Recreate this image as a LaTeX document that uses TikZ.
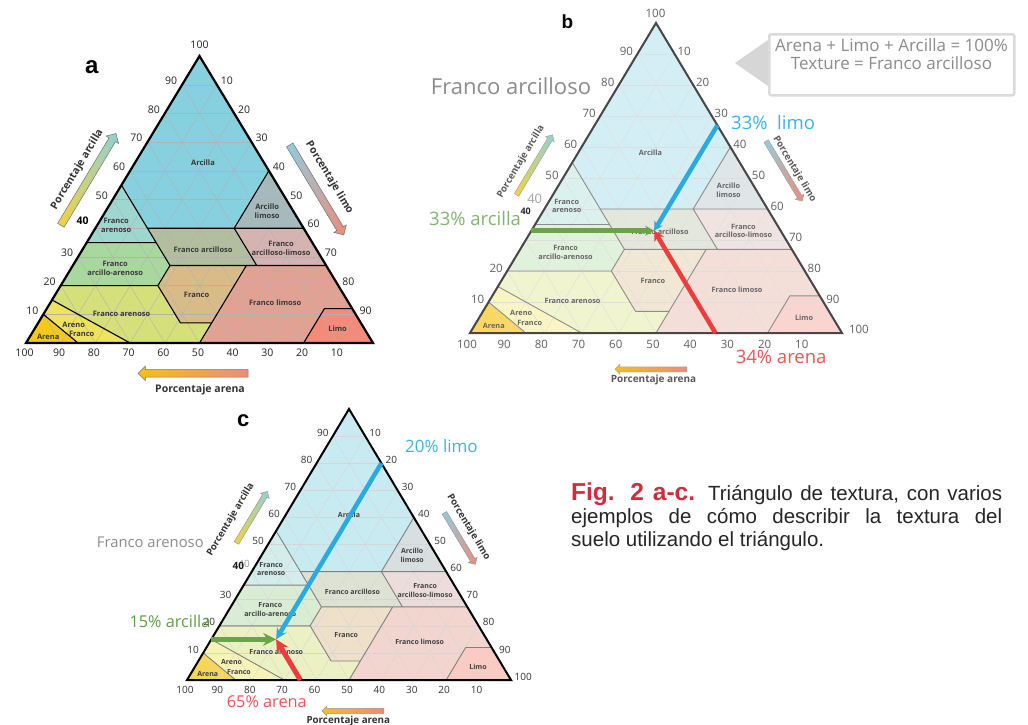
\documentclass[tikz,border=0pt]{standalone}
\usepackage{fontspec}
\setmainfont{Open Sans}
\newfontfamily\capfont{Liberation Sans}
\usetikzlibrary{shapes.arrows,arrows.meta}
\definecolor{cArcilla}{HTML}{86D0E0}
\definecolor{cArcLim}{HTML}{A6B9BD}
\definecolor{cFArenA}{HTML}{9CD8D0}
\definecolor{cFArc}{HTML}{B3BE9E}
\definecolor{cFArcLim}{HTML}{D5B3B0}
\definecolor{cFArcAre}{HTML}{A9D89E}
\definecolor{cFranco}{HTML}{D9BB88}
\definecolor{cFLim}{HTML}{E1A293}
\definecolor{cLimo}{HTML}{F28B7A}
\definecolor{cFArenB}{HTML}{D5E07A}
\definecolor{cArenoF}{HTML}{EEE35C}
\definecolor{cArena}{HTML}{F5C81C}
\definecolor{dblue}{HTML}{29ABE2}
\definecolor{dgreen}{HTML}{6BA34A}
\definecolor{dred}{HTML}{EE3B3B}
\definecolor{tblue}{HTML}{3DB4E8}
\definecolor{tgreenb}{HTML}{82B56E}
\definecolor{tgreenc}{HTML}{5FA046}
\definecolor{tred}{HTML}{F05454}
\definecolor{capred}{HTML}{D42B3A}
\definecolor{arY}{HTML}{F5D23A}
\definecolor{arT}{HTML}{8DD0D8}
\definecolor{arB}{HTML}{8FCDE0}
\definecolor{arS}{HTML}{F08A76}
\definecolor{arO}{HTML}{F7BE1E}
\definecolor{bigg}{HTML}{8C8C8C}

\newcommand{\soiltri}[4]{%
 \fill[cArcilla!#2!white] (0,55)--(0,100)--(40,60)--(40,40)--(15,40)--cycle;
 \fill[cArcLim!#2!white] (40,40)--(40,60)--(60,40)--cycle;
 \fill[cFArenA!#2!white] (0,35)--(0,55)--(15,40)--(20,35)--cycle;
 \fill[cFArc!#2!white] (15,40)--(40,40)--(53,27)--(28,27)--(20,35)--cycle;
 \fill[cFArcLim!#2!white] (40,40)--(60,40)--(73,27)--(53,27)--cycle;
 \fill[cFArcAre!#2!white] (0,20)--(0,35)--(20,35)--(28,27)--(28,20)--cycle;
 \fill[cFranco!#2!white] (28,20)--(28,27)--(50,27)--(50,7)--(41,7)--cycle;
 \fill[cFLim!#2!white] (50,0)--(50,27)--(73,27)--(88,12)--(80,12)--(80,0)--cycle;
 \fill[cLimo!#2!white] (80,0)--(80,12)--(88,12)--(100,0)--cycle;
 \fill[cFArenB!#2!white] (0,15)--(0,20)--(28,20)--(41,7)--(50,7)--(50,0)--(30,0)--cycle;
 \fill[cArenoF!#2!white] (0,10)--(0,15)--(30,0)--(15,0)--cycle;
 \fill[cArena!#4!white] (0,0)--(0,10)--(15,0)--cycle;
 \foreach \v in {10,20,...,90}{%
   \draw[gridln] (0,\v) -- ({100-\v},\v);
   \draw[gridln] (\v,0) -- (\v,{100-\v});
   \draw[gridln] (\v,0) -- (0,\v);
 }
 \draw[bord] (0,55)--(28,27) (0,35)--(20,35) (15,40)--(60,40) (40,40)--(40,60)
   (28,27)--(73,27) (53,27)--(40,40) (28,27)--(28,20) (0,20)--(28,20)
   (28,20)--(41,7)--(50,7) (50,0)--(50,27) (80,0)--(80,12)--(88,12)
   (0,15)--(30,0) (0,10)--(15,0);
 \draw[outl] (0,0)--(100,0)--(0,100)--cycle;
 \foreach \v in {10,20,...,90} \node[numR] (#1R\v) at (\v,{100-\v}) {\v};
 \foreach \s in {100,90,...,10} \node[numB] (#1B\s) at ({100-\s},0) {\s};
 \node[rlab] (#1n1) at (19.5,#3) {Arcilla};
 \node[rlab] (#1n2) at (46.5,46) {Arcillo\\limoso};
 \node[rlab] (#1n3) at (5.5,41) {Franco\\arenoso};
 \node[rlab] (#1n4) at (34.8,32.5) {Franco arcilloso};
 \node[rlab] (#1n5) at (57,33) {Franco\\arcilloso-limoso};
 \node[rlab] (#1n6) at (12.7,26) {Franco\\arcillo-arenoso};
 \node[rlab] (#1n7) at (40.8,16.7) {Franco};
 \node[rlab] (#1n8) at (64.8,14) {Franco limoso};
 \node[rlab] (#1n9) at (22.4,10.3) {Franco arenoso};
 \node[rlab] (#1n10) at (10.5,6.5) {Areno};
 \node[rlab] (#1n11) at (14.5,3.1) {Franco};
 \node[rlab] (#1n12) at (5.3,2.2) {Arena};
 \node[rlab] (#1n13) at (87.3,5) {Limo};
}

\tikzset{
 garr/.style={single arrow, draw=black!55, line width=0.5pt, inner xsep=0pt,
   single arrow head indent=0pt},
 ttl/.style={font=\fontsize{10.5}{12}\selectfont\bfseries, inner sep=0pt},
 big/.style={inner sep=0pt, font=\fontsize{18.5}{20}\selectfont},
 plab/.style={inner sep=0pt, font=\capfont\bfseries}
}

\begin{document}
\begin{tikzpicture}[x=1pt,y=-1pt]
\useasboundingbox (0,0) rectangle (1028,724);
\fill[white] (0,0) rectangle (1028,724);

% ---------------- panel a
\begin{scope}[shift={(26pt,-343pt)}, x={(3.47pt,0pt)}, y={(1.735pt,2.87pt)},
  num/.style={font=\fontsize{10.5}{12}\selectfont, text=black!85, inner sep=0pt},
  numL/.style={num,xshift=-11pt,yshift=4pt},
  numR/.style={num,xshift=10pt,yshift=4pt},
  numB/.style={num,xshift=-1.5pt,yshift=-10pt},
  gridln/.style={draw=black!30, line width=0.4pt},
  bord/.style={draw=black, line width=1.1pt, line join=round},
  outl/.style={draw=black, line width=2.2pt},
  rlab/.style={font=\fontsize{7.5}{8.7}\selectfont\bfseries, text=black!78, inner sep=0pt, align=center}]
 \soiltri{a}{100}{63}{100}
 \foreach \v in {10,20,30,50,60,70,80,90} \node[numL] (aL\v) at (0,\v) {\v};
\end{scope}
\node[inner sep=0pt, font=\fontsize{10.5}{12}\selectfont\bfseries] (aL40) at (82.7,220.7) {40};
\node[inner sep=0pt, font=\fontsize{10.5}{12}\selectfont, text=black!85] (aT) at (199.5,45) {100};
\node[plab, font=\capfont\bfseries\fontsize{24}{26}\selectfont] (la) at (91.7,67) {a};
\node[garr, minimum height=107pt, inner ysep=3.5pt, single arrow head extend=3.5pt, rotate=59, left color=arY, right color=arT] (aG1) at (87.5,181) {};
\node[ttl, rotate=59, text=black!80] (aT1) at (77.3,169.5) {Porcentaje arcilla};
\node[garr, minimum height=105pt, inner ysep=3.5pt, single arrow head extend=3.5pt, rotate=-59, left color=arB, right color=arS] (aG2) at (315.8,188.3) {};
\node[ttl, rotate=-59, text=black!80] (aT2) at (329.3,177.8) {Porcentaje limo};
\node[garr, minimum height=110pt, inner ysep=3.5pt, single arrow head extend=3.5pt, rotate=180, left color=arO, right color=arS] (aG3) at (195,373.3) {};
\node[ttl, text=black!80] (aT3) at (200,390) {Porcentaje arena};

% ---------------- panel b
\node[big, font=\fontsize{22}{24}\selectfont, text=bigg] (bBig) at (511,86.7) {Franco arcilloso};
\begin{scope}[shift={(470pt,-333pt)}, x={(3.72pt,0pt)}, y={(1.86pt,3.10pt)},
  num/.style={font=\fontsize{11.5}{13}\selectfont, text=black!62, inner sep=0pt},
  numL/.style={num,xshift=-11pt,yshift=3pt},
  numR/.style={num,xshift=9.5pt,yshift=3pt},
  numB/.style={num,xshift=-3pt,yshift=-11pt},
  gridln/.style={draw=black!13, line width=0.4pt},
  bord/.style={draw=black!45, line width=0.9pt, line join=round},
  outl/.style={draw=black!72, line width=2pt},
  rlab/.style={font=\fontsize{7.3}{8.5}\selectfont\bfseries, text=black!60, inner sep=0pt, align=center}]
 \soiltri{b}{36}{58}{70}
 \foreach \v in {10,20,50,60,70,80,90} \node[numL] (bL\v) at (0,\v) {\v};
 \coordinate (bP) at (33,33);
 \coordinate (bS1) at (33,67);
 \coordinate (bS2) at (0,33);
 \coordinate (bS3) at (66,0);
 \draw[dgreen, line width=4.5pt, -{Stealth[length=9pt,width=10pt]}] (bS2) -- (bP);
 \draw[dblue, line width=4.5pt, -{Stealth[length=9pt,width=10pt]}] (bS1) -- (bP);
 \draw[dred, line width=4.5pt, -{Stealth[length=10pt,width=11pt]}] (bS3) -- (bP);
\end{scope}
\node[inner sep=0pt, font=\fontsize{11.5}{13}\selectfont, text=black!62] (bT) at (655.5,13.3) {100};
\node[inner sep=0pt, font=\fontsize{11.5}{13}\selectfont, text=black!62] (bR100) at (858.9,329.3) {100};
\node[inner sep=0pt, font=\fontsize{13}{14}\selectfont, text=black!35] (bL40g) at (534.7,199.3) {40};
\node[inner sep=0pt, font=\fontsize{9}{10}\selectfont\bfseries, text=black!85] (bL40) at (525.7,211) {40};
\node[plab, font=\capfont\bfseries\fontsize{19}{21}\selectfont] (lb) at (567.3,22) {b};
\fill[black!16] (735,63) -- (768,40) -- (768,86) -- cycle;
\node[draw=black!14, line width=2.5pt, fill=white, rounded corners=2pt, minimum width=245pt, minimum height=61pt, anchor=north west] (box) at (768,33) {};
\node[inner sep=0pt, align=center, font=\fontsize{17}{18.3}\selectfont, text=bigg] (boxt) at (891.5,54) {Arena + Limo + Arcilla = 100\%\\Texture = Franco arcilloso};
\node[big, text=tblue, anchor=west] (bTl) at (731,122.7) {33\%\ \ limo};
\node[big, text=tgreenb, anchor=west] (bTg) at (429,218.3) {33\% arcilla};
\node[big, text=tred, anchor=west] (bTr) at (735.6,357.3) {34\% arena};
\node[garr, minimum height=70pt, inner ysep=2.3pt, single arrow head extend=2.5pt, rotate=59, left color=arY, right color=arT, draw=black!35] (bG1) at (533.9,166) {};
\node[ttl, rotate=59, text=black!65, font=\fontsize{9.5}{11}\selectfont\bfseries] (bT1) at (521,161.7) {Porcentaje arcilla};
\node[garr, minimum height=70pt, inner ysep=2.3pt, single arrow head extend=2.5pt, rotate=-59, left color=arB, right color=arS, draw=black!35] (bG2) at (783.5,170) {};
\node[ttl, rotate=-59, text=black!65, font=\fontsize{9.5}{11}\selectfont\bfseries] (bT2) at (794.5,169) {Porcentaje limo};
\node[garr, minimum height=72pt, inner ysep=2.3pt, single arrow head extend=2.5pt, rotate=180, left color=arO, right color=arS, draw=black!35] (bG3) at (652.2,369.3) {};
\node[ttl, text=black!65, font=\fontsize{10}{11}\selectfont\bfseries] (bT3) at (653.5,379.5) {Porcentaje arena};

% ---------------- panel c
\begin{scope}[shift={(187pt,-680pt)}, x={(3.24pt,0pt)}, y={(1.62pt,2.71pt)},
  num/.style={font=\fontsize{10}{12}\selectfont, text=black!80, inner sep=0pt},
  numL/.style={num,xshift=-10pt,yshift=3.4pt},
  numR/.style={num,xshift=10pt,yshift=3.4pt},
  numB/.style={num,xshift=-2pt,yshift=-9.5pt},
  gridln/.style={draw=black!16, line width=0.4pt},
  bord/.style={draw=black!50, line width=0.9pt, line join=round},
  outl/.style={draw=black, line width=2pt},
  rlab/.style={font=\fontsize{7}{8.3}\selectfont\bfseries, text=black!75, inner sep=0pt, align=center}]
 \soiltri{c}{45}{61}{75}
 \foreach \v in {10,20,30,50,60,70,80,90} \node[numL] (cL\v) at (0,\v) {\v};
 \coordinate (cP) at (20,15);
 \coordinate (cS1) at (20,80);
 \coordinate (cS2) at (0,15);
 \coordinate (cS3) at (35,0);
 \draw[dgreen, line width=4.5pt, -{Stealth[length=13pt,width=13pt]}] (cS2) -- (cP);
 \draw[dblue, line width=4.5pt, -{Stealth[length=11pt,width=11pt]}] (cS1) -- (cP);
 \draw[dred, line width=5pt, -{Stealth[length=13pt,width=13pt]}] (cS3) -- (cP);
\end{scope}
\node[inner sep=0pt, font=\fontsize{10}{12}\selectfont, text=black!80] (cR100) at (523.3,676.7) {100};
\node[inner sep=0pt, font=\fontsize{10}{12}\selectfont, text=black!40] (cL40g) at (244,563.5) {40};
\node[inner sep=0pt, font=\fontsize{10}{12}\selectfont\bfseries, text=black!90] (cL40) at (238.3,566) {40};
\node[plab, font=\capfont\bfseries\fontsize{22}{24}\selectfont] (lc) at (243.3,421) {c};
\node[big, text=tblue, anchor=west, font=\fontsize{17}{19}\selectfont] (cTl) at (405,446) {20\% limo};
\node[big, text=tgreenc, anchor=west, font=\fontsize{16.3}{18}\selectfont] (cTg) at (129.3,621.7) {15\% arcilla};
\node[big, text=tred, anchor=west, font=\fontsize{16.3}{18}\selectfont] (cTr) at (226.7,701.7) {65\% arena};
\node[big, text=bigg, anchor=west, font=\fontsize{14.8}{16}\selectfont] (cBig) at (96.7,542.7) {Franco arenoso};
\node[garr, minimum height=60pt, inner ysep=2.3pt, single arrow head extend=2.5pt, rotate=59, left color=arY, right color=arT, draw=black!40] (cG1) at (251.3,518.3) {};
\node[ttl, rotate=59, text=black!80, font=\fontsize{9.5}{11}\selectfont\bfseries] (cT1) at (230.7,519.5) {Porcentaje arcilla};
\node[garr, minimum height=60pt, inner ysep=2.3pt, single arrow head extend=2.5pt, rotate=-59, left color=arB, right color=arS, draw=black!40] (cG2) at (459.2,537.5) {};
\node[ttl, rotate=-59, text=black!80, font=\fontsize{9.5}{11}\selectfont\bfseries] (cT2) at (468.5,527) {Porcentaje limo};
\node[garr, minimum height=62pt, inner ysep=2.3pt, single arrow head extend=2.5pt, rotate=180, left color=arO, right color=arS, draw=black!40] (cG3) at (354.2,711) {};
\node[ttl, text=black!80, font=\fontsize{9.8}{11}\selectfont\bfseries] (cT3) at (348.3,720.5) {Porcentaje arena};

% ---------------- caption
\node[anchor=north west, text width=431pt, inner sep=0pt, align=justify,
  font=\capfont\fontsize{20.5}{23}\selectfont, text=black!85] (cap) at (571,483)
  {{\color{capred}\bfseries\fontsize{24.5}{23}\selectfont Fig. 2 a-c.} Triángulo de textura, con varios\linebreak ejemplos de cómo describir la textura del\linebreak suelo utilizando el triángulo.};
\end{tikzpicture}
\end{document}
